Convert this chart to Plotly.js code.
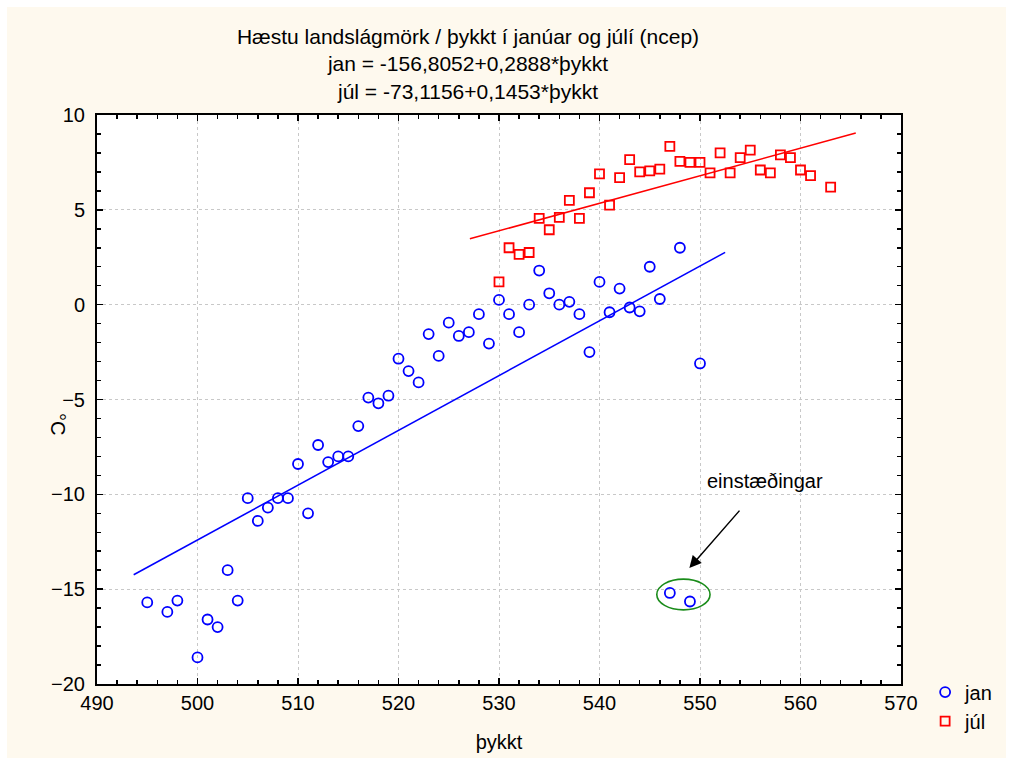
<!DOCTYPE html>
<html>
<head>
<meta charset="utf-8">
<script src="https://cdn.plot.ly/plotly-3.0.1.min.js"></script>
<style>
  html, body { margin: 0; padding: 0; background: #ffffff; }
  #wrap { position: relative; width: 1013px; height: 765px; }
  #chart { width: 1013px; height: 765px; }
  #frame { position: absolute; left: 0; top: 0; width: 1013px; height: 765px;
           box-sizing: border-box; border: 7px solid #ffffff; pointer-events: none; }
</style>
</head>
<body>
<div id="wrap"><div id="chart"></div><div id="frame"></div></div>
<script>
// ---- data ----
const janX = [495, 497, 498, 500, 501, 502, 503, 504, 505, 506, 507, 508, 509, 510, 511, 512, 513, 514, 515, 516, 517, 518, 519, 520, 521, 522, 523, 524, 525, 526, 527, 528, 529, 530, 531, 532, 533, 534, 535, 536, 537, 538, 539, 540, 541, 542, 543, 544, 545, 546, 547, 548, 549, 550];
const janY = [-15.7, -16.2, -15.6, -18.6, -16.6, -17.0, -14.0, -15.6, -10.2, -11.4, -10.7, -10.2, -10.2, -8.4, -11.0, -7.4, -8.3, -8.0, -8.0, -6.4, -4.9, -5.2, -4.8, -2.85, -3.5, -4.1, -1.55, -2.7, -0.95, -1.65, -1.45, -0.5, -2.05, 0.25, -0.5, -1.45, 0.0, 1.8, 0.6, 0.0, 0.15, -0.5, -2.5, 1.2, -0.4, 0.85, -0.15, -0.35, 2.0, 0.3, -15.2, 3.0, -15.65, -3.1];

const julX = [530, 531, 532, 533, 534, 535, 536, 537, 538, 539, 540, 541, 542, 543, 544, 545, 546, 547, 548, 549, 550, 551, 552, 553, 554, 555, 556, 557, 558, 559, 560, 561, 563];
const julY = [1.2, 3.0, 2.65, 2.75, 4.55, 3.95, 4.6, 5.5, 4.55, 5.9, 6.9, 5.25, 6.7, 7.65, 7.0, 7.05, 7.15, 8.35, 7.55, 7.5, 7.5, 6.95, 8.0, 6.95, 7.75, 8.15, 7.1, 6.95, 7.9, 7.75, 7.1, 6.8, 6.2];

// regression lines (coefficients from the title, extent)
const janIntercept = -156.8052, janSlope = 0.2888;
const julIntercept = -73.1156, julSlope = 0.1453;
const janFitX = [493.65, 552.5];
const julFitX = [527.1, 565.5];

// outlier annotation
const outlierBox = {x0: 545.7, x1: 551.0, y0: -16.09, y1: -14.47};
const arrowHead = [548.94, -13.89];
const arrowTail = [554.06, -10.78];
const labelPos = [556.45, -9.3];
const labelText = 'einstæðingar';

const titleLines = ['Hæstu landslágmörk / þykkt í janúar og júlí (ncep)',
                    'jan = -156,8052+0,2888*þykkt',
                    'júl = -73,1156+0,1453*þykkt'];
const xTitle = 'þykkt';
const yTitle = '°C';
const seriesNames = ['jan', 'júl'];

// ---- chart ----
const FONT = 'Arial, "Liberation Sans", sans-serif';
const BLUE = '#0000ff', RED = '#ff0000';

const traces = [
  { x: janX, y: janY, type: 'scatter', mode: 'markers', name: seriesNames[0],
    marker: { symbol: 'circle-open', size: 10, color: BLUE, line: { color: BLUE, width: 1.8 } } },
  { x: julX, y: julY, type: 'scatter', mode: 'markers', name: seriesNames[1],
    marker: { symbol: 'square-open', size: 9, color: RED, line: { color: RED, width: 1.8 } } },
  { x: janFitX, y: janFitX.map(v => janIntercept + janSlope * v), type: 'scatter', mode: 'lines',
    showlegend: false, hoverinfo: 'skip', line: { color: BLUE, width: 1.5 } },
  { x: julFitX, y: julFitX.map(v => julIntercept + julSlope * v), type: 'scatter', mode: 'lines',
    showlegend: false, hoverinfo: 'skip', line: { color: RED, width: 1.5 } }
];

const axisCommon = {
  showline: true, linecolor: '#000', linewidth: 2, mirror: 'allticks',
  ticks: 'inside', ticklen: 6, tickwidth: 1.5, tickcolor: '#000',
  showgrid: true, gridcolor: '#c8c8c8', griddash: 'dot', gridwidth: 1,
  zeroline: false, tickfont: { family: FONT, size: 20, color: '#000' },
  minor: { ticks: 'inside', ticklen: 4, tickwidth: 1.5, tickcolor: '#000', showgrid: false }
};

const layout = {
  width: 1013, height: 765,
  paper_bgcolor: '#fef9ee', plot_bgcolor: '#ffffff',
  margin: { l: 97, r: 112, t: 115, b: 81 },
  font: { family: FONT, size: 20, color: '#000' },
  title: { text: titleLines.join('<br>'), xref: 'container', x: 468 / 1013, xanchor: 'center',
           yref: 'container', y: 1 - 44 / 765, yanchor: 'top',
           font: { family: FONT, size: 21, color: '#000' } },
  xaxis: Object.assign({}, axisCommon, {
    range: [490, 570], tick0: 490, dtick: 10, minor: Object.assign({}, axisCommon.minor, { dtick: 2 }),
    title: { text: xTitle, font: { family: FONT, size: 20, color: '#000' }, standoff: 22 }
  }),
  yaxis: Object.assign({}, axisCommon, {
    range: [-20, 10], tick0: -20, dtick: 5, minor: Object.assign({}, axisCommon.minor, { dtick: 1 }),
    ticklabelstandoff: 6
  }),
  legend: { x: 1.03, xanchor: 'left', y: 0.02, yanchor: 'top', bgcolor: 'rgba(0,0,0,0)',
            font: { family: FONT, size: 20, color: '#000' }, tracegroupgap: 0 },
  shapes: [
    { type: 'circle', xref: 'x', yref: 'y', x0: outlierBox.x0, x1: outlierBox.x1,
      y0: outlierBox.y0, y1: outlierBox.y1, line: { color: '#1a8c1a', width: 1.6 } }
  ],
  annotations: [
    { x: arrowHead[0], y: arrowHead[1], ax: arrowTail[0], ay: arrowTail[1], axref: 'x', ayref: 'y',
      xref: 'x', yref: 'y', text: '', showarrow: true, arrowhead: 2, arrowsize: 1.6, arrowwidth: 1.5,
      arrowcolor: '#000' },
    { x: labelPos[0], y: labelPos[1], xref: 'x', yref: 'y', text: labelText, showarrow: false,
      font: { family: FONT, size: 20, color: '#000' } },
    { x: (45 - 97) / 804, y: (684 - 424) / 569, xref: 'paper', yref: 'paper', text: yTitle,
      showarrow: false, textangle: 90, font: { family: FONT, size: 20, color: '#000' } }
  ],
  showlegend: true
};

Plotly.newPlot('chart', traces, layout, { displayModeBar: false, staticPlot: true });
</script>
</body>
</html>
